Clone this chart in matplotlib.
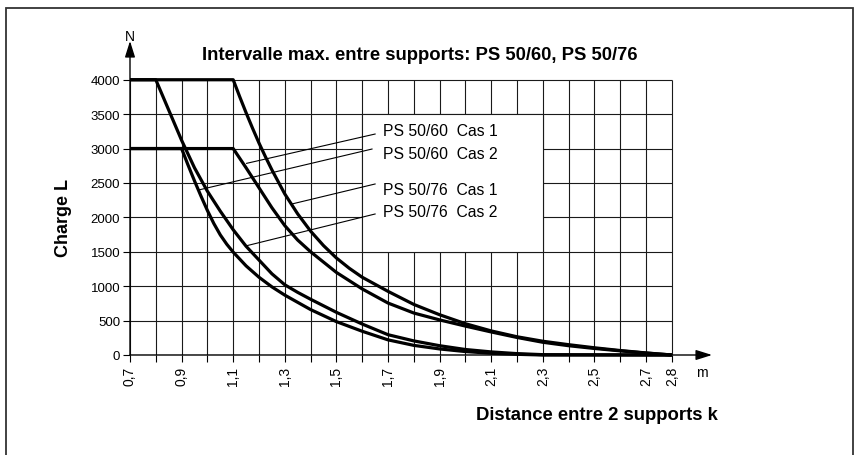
import matplotlib
matplotlib.use("Agg")
import matplotlib.pyplot as plt
from matplotlib.patches import Rectangle

plt.rcParams['font.family'] = ['Liberation Sans', 'DejaVu Sans']

# ---------------- data ----------------
title = "Intervalle max. entre supports: PS 50/60, PS 50/76"
x_label = "Distance entre 2 supports k"
y_label = "Charge L"
x_unit = "m"
y_unit = "N"

x_ticks = [0.7, 0.8, 0.9, 1.0, 1.1, 1.2, 1.3, 1.4, 1.5, 1.6, 1.7, 1.8, 1.9,
           2.0, 2.1, 2.2, 2.3, 2.4, 2.5, 2.6, 2.7, 2.8]
x_tick_labels = ["0,7", "", "0,9", "", "1,1", "", "1,3", "", "1,5", "", "1,7",
                 "", "1,9", "", "2,1", "", "2,3", "", "2,5", "", "2,7", "2,8"]
y_ticks = [0, 500, 1000, 1500, 2000, 2500, 3000, 3500, 4000]
y_tick_labels = ["0", "500", "1000", "1500", "2000", "2500", "3000", "3500", "4000"]

# PS 50/60 Cas 1
ps5060_cas1_x = [0.7, 1.1, 1.125, 1.15, 1.175, 1.2, 1.25, 1.3, 1.35, 1.4, 1.45, 1.5,
                 1.6, 1.7, 1.8, 1.9, 2.0, 2.1, 2.2, 2.3, 2.4, 2.5, 2.6, 2.7, 2.8]
ps5060_cas1_y = [3000, 3000, 2860, 2720, 2575, 2430, 2140, 1880, 1670, 1500, 1350, 1200,
                 960, 755, 610, 510, 420, 335, 255, 185, 135, 95, 60, 28, 0]

# PS 50/60 Cas 2
ps5060_cas2_x = [0.7, 0.9, 0.925, 0.95, 0.975, 1.0, 1.025, 1.05, 1.075, 1.1, 1.15, 1.2,
                 1.25, 1.3, 1.4, 1.5, 1.6, 1.7, 1.8, 1.9, 2.0, 2.1, 2.2, 2.3, 2.8]
ps5060_cas2_y = [3000, 3000, 2760, 2530, 2310, 2100, 1910, 1745, 1610, 1495, 1295, 1130,
                 990, 870, 660, 485, 345, 220, 140, 88, 50, 25, 10, 0, 0]

# PS 50/76 Cas 1
ps5076_cas1_x = [0.7, 1.1, 1.125, 1.15, 1.175, 1.2, 1.225, 1.25, 1.3, 1.35, 1.4, 1.45,
                 1.5, 1.55, 1.6, 1.7, 1.8, 1.9, 2.0, 2.1, 2.2, 2.3, 2.4, 2.5, 2.6,
                 2.7, 2.8]
ps5076_cas1_y = [4000, 4000, 3755, 3520, 3295, 3080, 2880, 2690, 2340, 2050, 1800, 1590,
                 1410, 1260, 1130, 925, 735, 585, 455, 350, 265, 200, 150, 105, 65,
                 30, 0]

# PS 50/76 Cas 2
ps5076_cas2_x = [0.7, 0.8, 0.85, 0.9, 0.95, 1.0, 1.05, 1.1, 1.15, 1.2, 1.25, 1.3,
                 1.35, 1.4, 1.5, 1.6, 1.7, 1.8, 1.9, 2.0, 2.1, 2.2, 2.3, 2.8]
ps5076_cas2_y = [4000, 4000, 3560, 3120, 2720, 2380, 2090, 1820, 1580, 1380, 1180, 1020,
                 910, 810, 620, 450, 295, 205, 135, 80, 45, 20, 5, 0]

series_labels = ["PS 50/60  Cas 1", "PS 50/60  Cas 2", "PS 50/76  Cas 1", "PS 50/76  Cas 2"]

# ---------------- figure ----------------
W, H = 864, 456
fig = plt.figure(figsize=(W / 100, H / 100), dpi=100)
fig.patch.set_facecolor("white")

xmin, xmax = 0.7, 2.97
ymin, ymax = 0, 4650
ax = fig.add_axes([130 / W, 100 / H, 585.66 / W, 320.0 / H])
ax.set_xlim(xmin, xmax)
ax.set_ylim(ymin, ymax)
for s in ax.spines.values():
    s.set_visible(False)

grid_c = "#1a1a1a"
grid_lw = 0.8
ax.vlines(x_ticks, 0, 4000, color=grid_c, lw=grid_lw, zorder=1)
ax.hlines(y_ticks, 0.7, 2.8, color=grid_c, lw=grid_lw, zorder=1)

# blank label box
ax.add_patch(Rectangle((1.6, 1500), 0.7, 2000, facecolor="white",
                       edgecolor=grid_c, lw=grid_lw, zorder=1.5))

curve_lw = 2.3
for xs, ys in [(ps5060_cas1_x, ps5060_cas1_y), (ps5060_cas2_x, ps5060_cas2_y),
               (ps5076_cas1_x, ps5076_cas1_y), (ps5076_cas2_x, ps5076_cas2_y)]:
    ax.plot(xs, ys, color="black", lw=curve_lw, solid_joinstyle="round",
            solid_capstyle="butt", zorder=3, clip_on=False)

# labels and leader lines
label_pos = [(1.681, 3269), (1.681, 2921), (1.681, 2412), (1.681, 2078)]
leader_start = [(1.650, 3211), (1.638, 2993), (1.650, 2485), (1.650, 2049)]
leader_end = [(1.152, 2785), (0.965, 2397), (1.327, 2194), (1.152, 1588)]
for lab, p, s, e in zip(series_labels, label_pos, leader_start, leader_end):
    ax.text(p[0], p[1], lab, fontsize=11.3, ha="left", va="center", zorder=4)
    ax.plot([s[0], e[0]], [s[1], e[1]], color="black", lw=0.8, zorder=2.5)

# axes arrows
ax.annotate("", xy=(2.956, 0), xytext=(0.7, 0),
            arrowprops=dict(arrowstyle="-|>,head_length=0.7,head_width=0.22",
                            lw=1.0, color="black", mutation_scale=14,
                            shrinkA=0, shrinkB=0), zorder=2)
ax.annotate("", xy=(0.7, 4563), xytext=(0.7, 0),
            arrowprops=dict(arrowstyle="-|>,head_length=0.7,head_width=0.22",
                            lw=1.0, color="black", mutation_scale=14,
                            shrinkA=0, shrinkB=0), zorder=2)

ax.text(0.7, 4640, y_unit, fontsize=10, ha="center", va="center")
ax.text(2.916, -247, x_unit, fontsize=10, ha="center", va="center")

ax.set_xticks(x_ticks)
ax.set_xticklabels(x_tick_labels, rotation=90)
ax.set_yticks(y_ticks)
ax.set_yticklabels(y_tick_labels)
ax.tick_params(axis="x", length=5, width=0.8, pad=3, labelsize=10, color="black")
ax.tick_params(axis="y", length=5, width=0.8, pad=2, labelsize=9.5, color="black")

fig.text(420 / W, 1 - 55 / H, title, ha="center", va="center",
         fontsize=13.3, weight="bold")
fig.text(597 / W, 1 - 416 / H, x_label, ha="center", va="center",
         fontsize=13.3, weight="bold")
fig.text(63 / W, 1 - 218 / H, y_label, ha="center", va="center",
         fontsize=13, weight="bold", rotation=90)

# outer frame
fig.patches.append(Rectangle((6 / W, -0.05), 847 / W, 1.05 - 9 / H,
                             transform=fig.transFigure, facecolor="none",
                             edgecolor="#333333", lw=1.3))

fig.savefig("out.png", dpi=100)
